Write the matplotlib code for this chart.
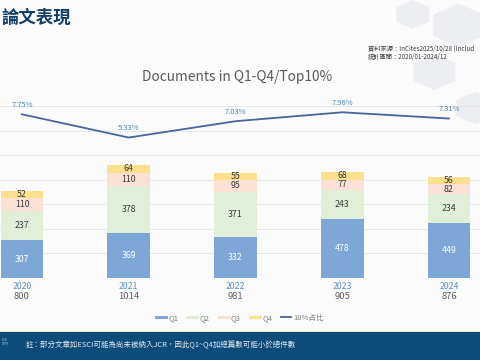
import numpy as np
import matplotlib
matplotlib.use('Agg')
import matplotlib.pyplot as plt
from matplotlib.lines import Line2D
from matplotlib.patches import Rectangle, RegularPolygon

plt.rcParams['font.family'] = ['Noto Sans CJK TC', 'DejaVu Sans']

years = ['2020', '2021', '2022', '2023', '2024']
totals = [800, 1014, 981, 905, 876]
q1 = [307, 369, 332, 478, 449]
q2 = [237, 378, 371, 243, 234]
q3 = [110, 110, 95, 77, 82]
q4 = [52, 64, 55, 68, 56]
top10 = [7.75, 5.33, 7.03, 7.96, 7.31]

series = [('Q1', q1, '#7ea7d8', 'white'),
          ('Q2', q2, '#e1eed8', '#3a3a3a'),
          ('Q3', q3, '#fbe1d4', '#3a3a3a'),
          ('Q4', q4, '#fde08e', '#3a3a3a')]
line_col = '#46659b'

fig = plt.figure(figsize=(4.8, 3.6), dpi=100)
fig.patch.set_facecolor('#fbfbfb')

# decorative shapes top right
for (cx, cy, r) in [(0.955, 0.93, 0.06), (0.905, 0.80, 0.05), (0.99, 0.70, 0.045), (0.86, 0.96, 0.04)]:
    fig.patches.append(RegularPolygon((cx, cy), 6, radius=r, transform=fig.transFigure,
                                      facecolor='#eceef1', edgecolor='none', zorder=0))

# footer band
fig.patches.append(Rectangle((0, 0), 1, 28 / 360, transform=fig.transFigure,
                             facecolor='#0d4b7a', edgecolor='none', zorder=1))
fig.patches.append(Rectangle((0, 28 / 360), 1, 1.2 / 360, transform=fig.transFigure,
                             facecolor='#f3e3b8', edgecolor='none', zorder=1))

x = np.arange(len(years))
ax = fig.add_axes([-31.4 / 480, 1 - 278 / 360, 533.75 / 480, 177.9 / 360])
ax.set_zorder(2)
ax.set_facecolor('none')
ax.set_xlim(-0.5, 4.5)
ax.set_ylim(0, 1450)
ax.set_yticks(np.arange(0, 1450, 200))
ax.yaxis.grid(True, color='#e4e4e4', lw=0.6)
ax.set_axisbelow(True)
for s in ax.spines.values():
    s.set_visible(False)
ax.tick_params(left=False, bottom=False, labelleft=False, labelbottom=False)

bottom = np.zeros(len(years))
for name, vals, col, tcol in series:
    ax.bar(x, vals, 0.40, bottom=bottom, color=col, label=name, zorder=2)
    for i, v in enumerate(vals):
        ax.text(x[i], bottom[i] + v / 2, str(v), ha='center', va='center',
                fontsize=6.3, color=tcol, zorder=3)
    bottom += np.array(vals)

for i in range(len(years)):
    ax.text(x[i], -9 / 0.1227, years[i], ha='center', va='center', fontsize=6.3,
            color='#5b8fc9', clip_on=False)
    ax.text(x[i], -19 / 0.1227, str(totals[i]), ha='center', va='center', fontsize=6.8,
            color='#606060', clip_on=False)

ax2 = ax.twinx()
ax2.set_zorder(3)
ax2.set_ylim(-9.3, 9.23)
ax2.axis('off')
ax2.plot(x, top10, color=line_col, lw=1.3, zorder=4)
for i, v in enumerate(top10):
    ax2.annotate('%.2f%%' % v, (x[i], v), xytext=(0, 4), textcoords='offset points',
                 ha='center', va='bottom', fontsize=5.5, color='#4f87c4')

fig.text(237 / 480, 1 - 77 / 360, 'Documents in Q1-Q4/Top10%', ha='center', va='center',
         fontsize=9.9, color='#5a5a5a')

fig.text(0.002, 1 - 18 / 360, '論文表現', ha='left', va='center', fontsize=12.5,
         fontweight='bold', color='#123f6a')
fig.text(368 / 480, 1 - 49 / 360, '資料來源：InCites2025/10/28 (Includ', ha='left',
         va='center', fontsize=4.5, style='italic', color='#3c3c3c')
fig.text(368 / 480, 1 - 57 / 360, '統計區間：2020/01-2024/12', ha='left',
         va='center', fontsize=4.5, style='italic', color='#3c3c3c')

handles = [Line2D([], [], color=c, lw=2.2) for _, _, c, _ in series]
handles.append(Line2D([], [], color=line_col, lw=1.3))
fig.legend(handles, ['Q1', 'Q2', 'Q3', 'Q4', '10%占比'], loc='center',
           bbox_to_anchor=(240 / 480, 1 - 318 / 360), ncol=5, frameon=False,
           fontsize=5.5, handlelength=1.3, handletextpad=0.3, columnspacing=1.2,
           labelcolor='#808080')

fig.text(26 / 480, 1 - 345 / 360, '註：部分文章如ESCI可能為尚未被納入JCR，因此Q1~Q4加總篇數可能小於總件數',
         ha='left', va='center', fontsize=5.4, style='italic', color='#dfe8f1', zorder=3)
fig.text(2 / 480, 1 - 342 / 360, 'U.S.\nSITY', ha='left', va='center', fontsize=2.5,
         color='#c8d6e4', zorder=3)

fig.savefig('out.png', dpi=100, facecolor=fig.get_facecolor())
